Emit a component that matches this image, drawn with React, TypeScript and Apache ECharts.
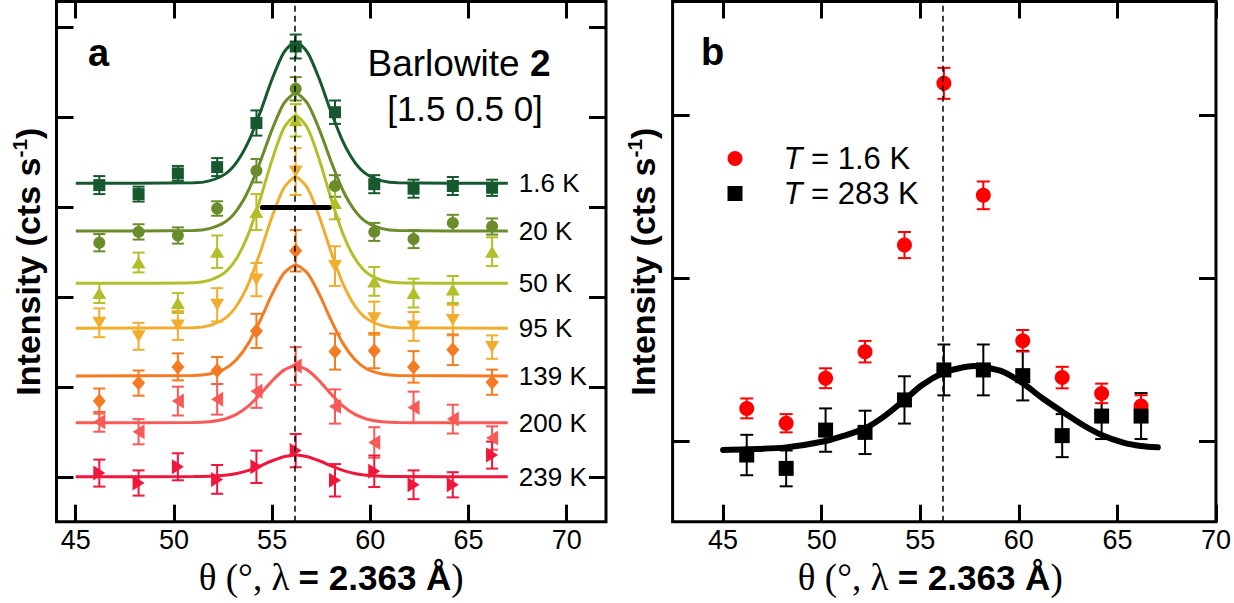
import React, { useEffect, useRef } from "react";
import * as echarts from "echarts";

const FONT = '"Liberation Sans", Arial, Helvetica, sans-serif';
const SERIF = '"Liberation Serif", "Times New Roman", serif';

// ---------- shared ----------
const theta = [46.2, 48.2, 50.2, 52.2, 54.2, 56.2, 58.2, 60.2, 62.2, 64.2, 66.2];
const xTicks = [45, 50, 55, 60, 65, 70];
const peakTheta = 56.15;

// ---------- panel a ----------
const tempLabels = ["1.6 K", "20 K", "50 K", "95 K", "139 K", "200 K", "239 K"];
const yTicksA = [0, 10, 20, 30, 40, 50];

const a1p6 = [32.5, 31.5, 33.8, 34.5, 39.4, 47.9, 40.6, 32.6, 32.1, 32.4, 32.2];
const e1p6 = [1.0, 0.83, 0.83, 1.0, 1.4, 1.33, 1.3, 1.0, 1.0, 1.0, 0.9];
const a20 = [26.1, 27.3, 26.9, 29.9, 34.1, 43.2, 32.4, 27.3, 26.5, 28.3, 27.9];
const e20 = [0.96, 0.85, 0.9, 0.8, 1.3, 1.3, 1.2, 1.0, 1.0, 0.9, 0.9];
const a50 = [20.5, 23.9, 19.4, 25.1, 29.5, 39.7, 30.5, 21.8, 20.5, 20.9, 25.1];
const e50 = [1.1, 1.1, 1.1, 1.8, 2.0, 1.8, 1.8, 1.6, 1.6, 1.5, 1.6];
const a95 = [17.2, 15.7, 16.9, 19.2, 22.0, 34.0, 23.5, 17.7, 16.8, 17.5, 14.5];
const e95 = [1.6, 1.5, 1.6, 1.85, 1.85, 2.6, 2.2, 1.85, 1.6, 1.7, 1.3];
const a139 = [8.5, 10.5, 12.3, 11.9, 16.3, 25.2, 14.0, 14.1, 12.3, 14.2, 10.6];
const e139 = [1.4, 1.4, 1.5, 1.5, 1.9, 2.3, 2.0, 1.95, 1.75, 1.7, 1.4];
const a200 = [6.2, 5.1, 8.5, 8.7, 9.6, 12.4, 7.9, 3.9, 7.8, 6.5, 4.4];
const e200 = [1.1, 1.4, 1.6, 1.7, 1.85, 2.1, 1.9, 1.7, 1.75, 1.6, 1.3];
const a239 = [0.5, -0.6, 1.2, -0.2, 1.2, 3.0, -0.3, 0.7, -0.8, -0.8, 2.5];
const e239 = [1.5, 1.4, 1.5, 1.6, 1.8, 1.85, 1.8, 1.75, 1.6, 1.4, 1.5];

// fitted curves
const fitX = [45, 51, 51.8, 52.6, 53.2, 53.8, 54.4, 55.0, 55.6, 56.2, 56.8, 57.4, 58.0, 58.6, 59.2, 59.8, 60.6, 61.4, 67];
const fit1p6 = [32.7, 32.75, 32.97, 33.72, 35.06, 37.35, 40.63, 44.29, 47.25, 48.4, 47.25, 44.29, 40.63, 37.35, 35.06, 33.72, 32.97, 32.75, 32.7];
const fit20 = [27.4, 27.45, 27.66, 28.39, 29.7, 31.93, 35.13, 38.69, 41.58, 42.7, 41.58, 38.69, 35.13, 31.93, 29.7, 28.39, 27.66, 27.45, 27.4];
const fit50 = [21.6, 21.66, 21.92, 22.81, 24.39, 27.11, 30.99, 35.33, 38.84, 40.2, 38.84, 35.33, 30.99, 27.11, 24.39, 22.81, 21.92, 21.66, 21.6];
const fit95 = [16.6, 16.65, 16.89, 17.69, 19.12, 21.57, 25.08, 29.0, 32.17, 33.4, 32.17, 29.0, 25.08, 21.57, 19.12, 17.69, 16.89, 16.65, 16.6];
const fit139 = [11.3, 11.34, 11.51, 12.1, 13.15, 14.94, 17.51, 20.38, 22.7, 23.6, 22.7, 20.38, 17.51, 14.94, 13.15, 12.1, 11.51, 11.34, 11.3];
const fit200 = [6.1, 6.12, 6.21, 6.51, 7.05, 7.96, 9.28, 10.75, 11.94, 12.4, 11.94, 10.75, 9.28, 7.96, 7.05, 6.51, 6.21, 6.12, 6.1];
const fit239 = [0.1, 0.11, 0.14, 0.26, 0.46, 0.81, 1.31, 1.87, 2.32, 2.5, 2.32, 1.87, 1.31, 0.81, 0.46, 0.26, 0.14, 0.11, 0.1];

// resolution bar
const resBarX = [54.5, 57.9];
const resBarY = 30;

// ---------- panel b ----------
const yTicksB = [0, 10, 20];
const bLegend = ["T = 1.6 K", "T = 283 K"];
const bRed = [2.0, 1.09, 3.85, 5.48, 12.02, 21.94, 15.07, 6.15, 3.89, 2.92, 2.15];
const bRedErr = [0.61, 0.56, 0.61, 0.66, 0.8, 0.95, 0.85, 0.66, 0.66, 0.6, 0.66];
const bBlack = [-0.86, -1.68, 0.67, 0.53, 2.52, 4.36, 4.36, 4.01, 0.33, 1.53, 1.53];
const bBlackErr = [1.24, 1.1, 1.33, 1.33, 1.45, 1.56, 1.56, 1.52, 1.32, 1.41, 1.41];
const bFitX = [45, 46.2, 48.2, 50.2, 51.1, 52.2, 53.1, 54.2, 55.1, 56.2, 57.1, 57.7, 58.2, 59.2, 60.2, 61.2, 62.2, 63.25, 64.2, 65.3, 66.2, 67.05];
const bFitY = [-0.55, -0.51, -0.39, 0.0, 0.31, 0.78, 1.45, 2.52, 3.44, 4.2, 4.5, 4.6, 4.55, 4.25, 3.54, 2.62, 1.8, 0.98, 0.37, -0.1, -0.31, -0.39];

// ---------- styles ----------
const seriesA = [
  { vals: a1p6, errs: e1p6, fit: fit1p6 },
  { vals: a20, errs: e20, fit: fit20 },
  { vals: a50, errs: e50, fit: fit50 },
  { vals: a95, errs: e95, fit: fit95 },
  { vals: a139, errs: e139, fit: fit139 },
  { vals: a200, errs: e200, fit: fit200 },
  { vals: a239, errs: e239, fit: fit239 },
];
const colorsA = ["#17592e", "#6b8c2b", "#b3bf2a", "#f0ad2e", "#f47b22", "#f85a58", "#f0163c"];
const symbolsA = [
  "rect",
  "circle",
  "triangle",
  "path://M0,0L10,0L5,9Z",
  "diamond",
  "path://M9,0L9,10L0,5Z",
  "path://M0,0L0,10L9,5Z",
];
const symbolSizesA: any[] = [12, 12, [14, 12], [14, 12], [13, 15], [12, 15], [12, 15]];

const errRender = (color: string, cap: number, lw: number) => (params: any, api: any) => {
  const x = api.value(0);
  const y = api.value(1);
  const e = api.value(2);
  const lo = api.coord([x, y - e]);
  const hi = api.coord([x, y + e]);
  const st = { stroke: color, lineWidth: lw };
  return {
    type: "group",
    children: [
      { type: "line", shape: { x1: lo[0], y1: lo[1], x2: hi[0], y2: hi[1] }, style: st },
      { type: "line", shape: { x1: lo[0] - cap, y1: lo[1], x2: lo[0] + cap, y2: lo[1] }, style: st },
      { type: "line", shape: { x1: hi[0] - cap, y1: hi[1], x2: hi[0] + cap, y2: hi[1] }, style: st },
    ],
  };
};

const tickStyle = { color: "#000", width: 3 };

function xAxisDef(gridIndex: number, min: number, max: number, position: string, main: boolean, shift: number) {
  return {
    type: "value",
    gridIndex,
    min,
    max,
    position,
    axisLine: { show: false, onZero: false },
    splitLine: { show: false },
    axisTick: { show: true, inside: true, length: 17, customValues: xTicks, lineStyle: tickStyle },
    axisLabel: {
      show: main,
      customValues: xTicks,
      fontSize: 27,
      color: "#000",
      fontFamily: FONT,
      margin: 5,
    },
    name: main ? "{s|θ (°, λ }{b|= 2.363 Å}{s|)}" : "",
    nameLocation: "middle",
    nameGap: 36,
    nameTextStyle: {
      padding: [0, shift, 0, 0],
      rich: {
        s: { fontSize: 37, fontFamily: SERIF, color: "#000" },
        b: { fontSize: 35, fontFamily: FONT, fontWeight: "bold", color: "#000" },
      },
    },
  };
}

function yAxisDef(gridIndex: number, min: number, max: number, position: string, ticks: number[], main: boolean, gap: number) {
  return {
    type: "value",
    gridIndex,
    min,
    max,
    position,
    axisLine: { show: false, onZero: false },
    splitLine: { show: false },
    axisTick: { show: true, inside: true, length: 17, customValues: ticks, lineStyle: tickStyle },
    axisLabel: { show: false },
    name: main ? "{t|Intensity (cts s}{u|-1}{t|)}" : "",
    nameLocation: "middle",
    nameRotate: 90,
    nameGap: gap,
    nameTextStyle: {
      rich: {
        t: { fontSize: 34, fontFamily: FONT, fontWeight: "bold", color: "#000", lineHeight: 38 },
        u: { fontSize: 21, fontFamily: FONT, fontWeight: "bold", color: "#000", lineHeight: 38, verticalAlign: "top", padding: [0, 0, 14, 0] },
      },
    },
  };
}

export default function App() {
  const ref = useRef<HTMLDivElement>(null);

  useEffect(() => {
    if (!ref.current) return;
    const chart = echarts.init(ref.current, null, { renderer: "svg" });

    const series: any[] = [];

    seriesA.forEach((s, i) => {
      series.push({
        type: "line",
        xAxisIndex: 0,
        yAxisIndex: 0,
        data: fitX.map((x, j) => [x, s.fit[j]]),
        symbol: "none",
        smooth: 0.25,
        silent: true,
        lineStyle: { color: colorsA[i], width: 3 },
        endLabel: {
          show: true,
          formatter: tempLabels[i],
          color: "#000",
          fontSize: 26,
          fontFamily: FONT,
          distance: 11,
        },
        z: 2,
      });
      series.push({
        type: "custom",
        xAxisIndex: 0,
        yAxisIndex: 0,
        data: theta.map((t, j) => [t, s.vals[j], s.errs[j]]),
        encode: { x: 0, y: 1 },
        renderItem: errRender(colorsA[i], 6, 2),
        silent: true,
        z: 3,
      });
      series.push({
        type: "scatter",
        xAxisIndex: 0,
        yAxisIndex: 0,
        data: theta.map((t, j) => [t, s.vals[j]]),
        symbol: symbolsA[i],
        symbolSize: symbolSizesA[i],
        itemStyle: { color: colorsA[i], opacity: 1 },
        silent: true,
        z: 4,
      });
    });

    // resolution bar + dashed line panel a
    series.push({
      type: "line",
      xAxisIndex: 0,
      yAxisIndex: 0,
      data: resBarX.map((x) => [x, resBarY]),
      symbol: "none",
      silent: true,
      lineStyle: { color: "#000", width: 5, cap: "round" },
      z: 5,
      markLine: {
        silent: true,
        symbol: ["none", "none"],
        label: { show: false },
        lineStyle: { color: "#000", type: [6, 4], width: 1.5 },
        data: [{ xAxis: peakTheta }],
      },
    });

    // panel b
    series.push({
      type: "line",
      xAxisIndex: 2,
      yAxisIndex: 2,
      data: bFitX.map((x, j) => [x, bFitY[j]]),
      symbol: "none",
      smooth: 0.3,
      silent: true,
      lineStyle: { color: "#000", width: 6, cap: "round" },
      z: 2,
      markLine: {
        silent: true,
        symbol: ["none", "none"],
        label: { show: false },
        lineStyle: { color: "#000", type: [6, 4], width: 1.5 },
        data: [{ xAxis: peakTheta }],
      },
    });
    series.push({
      type: "custom",
      xAxisIndex: 2,
      yAxisIndex: 2,
      data: theta.map((t, j) => [t, bBlack[j], bBlackErr[j]]),
      encode: { x: 0, y: 1 },
      renderItem: errRender("#000", 6.5, 2),
      silent: true,
      z: 3,
    });
    series.push({
      type: "custom",
      xAxisIndex: 2,
      yAxisIndex: 2,
      data: theta.map((t, j) => [t, bRed[j], bRedErr[j]]),
      encode: { x: 0, y: 1 },
      renderItem: errRender("#ff0000", 6.5, 2),
      silent: true,
      z: 3,
    });
    series.push({
      type: "scatter",
      name: bLegend[0],
      xAxisIndex: 2,
      yAxisIndex: 2,
      data: theta.map((t, j) => [t, bRed[j]]),
      symbol: "circle",
      symbolSize: 15,
      itemStyle: { color: "#ff0000", opacity: 1 },
      silent: true,
      z: 4,
    });
    series.push({
      type: "scatter",
      name: bLegend[1],
      xAxisIndex: 2,
      yAxisIndex: 2,
      data: theta.map((t, j) => [t, bBlack[j]]),
      symbol: "rect",
      symbolSize: 15,
      itemStyle: { color: "#000", opacity: 1 },
      silent: true,
      z: 4,
    });

    const option: any = {
      animation: false,
      backgroundColor: "#fff",
      grid: [
        { left: 56.5, top: 1.5, width: 549.5, height: 520.2, show: true, borderColor: "#000", borderWidth: 3, backgroundColor: "transparent" },
        { left: 672.6, top: 1.5, width: 549.4, height: 520.2, show: true, borderColor: "#000", borderWidth: 3, backgroundColor: "transparent" },
      ],
      xAxis: [
        xAxisDef(0, 44.02, 72.0, "bottom", true, 0),
        xAxisDef(0, 44.02, 72.0, "top", false, 0),
        xAxisDef(1, 42.44, 70.0, "bottom", true, 28),
        xAxisDef(1, 42.44, 70.0, "top", false, 0),
      ],
      yAxis: [
        yAxisDef(0, -4.9, 52.9, "left", yTicksA, true, 10),
        yAxisDef(0, -4.9, 52.9, "right", yTicksA, false, 10),
        yAxisDef(1, -4.95, 26.96, "left", yTicksB, true, 11),
        yAxisDef(1, -4.95, 26.96, "right", yTicksB, false, 11),
      ],
      legend: {
        show: true,
        orient: "vertical",
        left: 727.5,
        top: 143,
        padding: 0,
        itemGap: 4,
        itemWidth: 15,
        itemHeight: 15,
        selectedMode: false,
        data: bLegend,
        formatter: (n: string) => "{sp|}{i|T}{r|" + n.slice(1) + "}",
        textStyle: {
          rich: {
            sp: { width: 36, lineHeight: 36 },
            i: { fontSize: 31, fontStyle: "italic", fontFamily: FONT, color: "#000", lineHeight: 36 },
            r: { fontSize: 31, fontFamily: FONT, color: "#000", lineHeight: 36 },
          },
        },
      },
      graphic: [
        {
          type: "text",
          x: 88,
          y: 52.5,
          style: { text: "a", fontSize: 38, fontWeight: "bold", fontFamily: FONT, fill: "#000", verticalAlign: "middle" },
        },
        {
          type: "text",
          x: 701,
          y: 51.5,
          style: { text: "b", fontSize: 38, fontWeight: "bold", fontFamily: FONT, fill: "#000", verticalAlign: "middle" },
        },
        {
          type: "text",
          x: 459,
          y: 63,
          style: {
            text: "{n|Barlowite }{b|2}",
            align: "center",
            verticalAlign: "middle",
            rich: {
              n: { fontSize: 37, fontFamily: FONT, fill: "#000" },
              b: { fontSize: 37, fontFamily: FONT, fontWeight: "bold", fill: "#000" },
            },
          },
        },
        {
          type: "text",
          x: 465,
          y: 108,
          style: { text: "[1.5 0.5 0]", fontSize: 35, fontFamily: FONT, fill: "#000", align: "center", verticalAlign: "middle" },
        },
      ],
      series,
    };

    chart.setOption(option);
    return () => chart.dispose();
  }, []);

  return (
    <div
      ref={ref}
      style={{ position: "absolute", left: 0, top: 0, width: 1234, height: 603, overflow: "hidden", background: "#fff" }}
    />
  );
}
